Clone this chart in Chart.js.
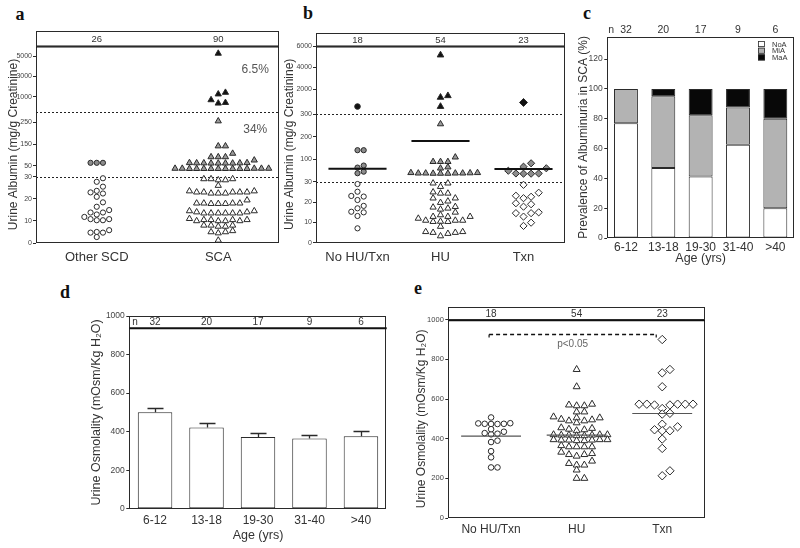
<!DOCTYPE html>
<html><head><meta charset="utf-8">
<script src="https://cdn.jsdelivr.net/npm/chart.js@4.4.1/dist/chart.umd.min.js"></script>
<style>
html,body{margin:0;padding:0;background:#fff;}
body{width:800px;height:548px;overflow:hidden;position:relative;}
canvas{position:absolute;}
.pl{position:absolute;font-family:"Liberation Serif","DejaVu Serif",serif;font-weight:bold;font-size:18px;color:#111;transform:translate(-50%,-50%);line-height:1;}
</style></head><body>
<div class="pl" style="left:20px;top:14px">a</div>
<div class="pl" style="left:308px;top:13px">b</div>
<div class="pl" style="left:587px;top:13px">c</div>
<div class="pl" style="left:65px;top:292px">d</div>
<div class="pl" style="left:418px;top:288px">e</div>
<canvas id="cA"></canvas><canvas id="cB"></canvas><canvas id="cC"></canvas><canvas id="cD"></canvas><canvas id="cE"></canvas>
<script>
// ---------------- DATA ----------------
// Panel a: urine albumin (mg/g creatinine), Other SCD vs SCA
const groupsA = ['Other SCD', 'SCA'];
const nA = [26, 90];
const otherScdNoA = [29.3, 27.7, 25.5, 23.6, 22.9, 22.4, 20.9, 18.4, 16.4, 14.9, 13.8, 13.8, 12.9, 11.8, 10.8, 10.8, 10.3, 10.3, 5.8, 5.0, 4.7, 4.7, 2.7];
const otherScdMiA = [64, 64, 64];
const scaNoA = [29, 29, 28.5, 28.5, 29, 26,
  23.5, 23, 23, 22.5, 23, 22.5, 23, 23.5, 22.5, 23,
  18, 18, 17.8, 17.8, 18, 18, 17.8, 19.4,
  14.5, 14, 13.5, 13.5, 13.5, 13.5, 13.5, 13.5, 14, 14.5,
  11, 10.5, 10.5, 10, 10, 10, 10, 10.5, 10.5,
  8, 8, 7.5, 7.5, 8,
  5.5, 5, 4.5, 5,
  1.2];
const scaMiA = [256, 141, 141, 107, 91, 91, 91, 76,
  64, 63, 62, 62, 62, 63, 62, 63, 64,
  38, 38, 37, 37, 37, 37, 37, 37, 37, 37, 38, 38, 37, 38];
const scaMaA = [5270, 1430, 1270, 700, 430, 370];
const yTicksA = [0, 10, 20, 30, 50, 150, 250, 1000, 3000, 5000];
const cutoffs = [30, 300];
const pctLabelsA = ['6.5%', '34%'];

// Panel b: urine albumin by treatment
const groupsB = ['No HU/Txn', 'HU', 'Txn'];
const nB = [18, 54, 23];
const noTxNoA = [29, 25.2, 23.1, 22.8, 21.1, 18.2, 17, 15.3, 15, 13.2, 7.1];
const noTxMiA = [140, 140, 72, 63, 45, 38];
const noTxMaA = [381];
const huNoA = [29.4, 27.7, 29.4, 25, 24.4, 22, 22, 24.4, 20.5, 19.8, 17.8, 17, 16.5, 17.5, 15,
  12.9, 12, 11, 10.4, 11, 12.9, 10.5, 12.9, 11, 13.7, 10.4, 8, 5.4, 5, 3.3, 4.5, 5, 5.4];
const huMiA = [256, 109, 89, 89, 89, 65, 60, 38, 38, 37, 37, 38, 40, 40, 39, 37, 38];
const huMaA = [5160, 1380, 1230, 380];
const txnNoA = [28.6, 24.7, 22.7, 22, 23.2, 19.5, 17.8, 19, 14.6, 14.6, 12.9, 15, 8.3, 9.9];
const txnMiA = [82, 67, 60, 49, 37, 36, 36, 37];
const txnMaA = [754];
const meanB = [58, 181, 57];
const yTicksB = [0, 10, 20, 30, 100, 200, 300, 2000, 4000, 6000];

// Panel c: prevalence of albuminuria by age (%)
const ageGroups = ['6-12', '13-18', '19-30', '31-40', '>40'];
const nAge = [32, 20, 17, 9, 6];
const prevNoA = [77, 47, 41.2, 62.5, 20];
const prevMiA = [23, 48, 41.2, 25, 60];
const prevMaA = [0, 5, 17.6, 12.5, 20];

// Panel d: urine osmolality by age (mean, SEM)
const osmMean = [500, 422, 372, 364, 376];
const osmSem = [22, 21, 20, 20, 26];

// Panel e: urine osmolality by treatment
const nE = [18, 54, 23];
const osmNoTx = [507, 477, 475, 474, 474, 475, 478, 435, 425, 422, 428, 448, 383, 390, 337, 306, 255, 255];
const osmHU = [749, 662, 574, 566, 566, 570, 535, 535, 498, 490, 495, 505, 505, 510, 480, 490,
  448, 452, 445, 455, 440,
  418, 420, 415, 418, 420, 415, 418, 420,
  393, 395, 390, 393, 395, 390, 393, 395,
  359, 359, 359, 359, 365,
  332, 320, 312, 320, 325,
  287, 267, 275, 267,
  242, 200, 200];
const osmTxn = [900, 749, 732, 662, 574, 574, 574, 574, 574, 570, 570, 552, 524, 528, 473, 440, 440, 460, 445, 398, 351, 213, 238];
const osmMedian = [413, 418, 527];
const pLabel = 'p<0.05';

// ---------------- STYLE / HELPERS ----------------
const SANS = '"Liberation Sans", Arial, Helvetica, "DejaVu Sans", sans-serif';
const NARROW = '"Liberation Sans Narrow", "Arial Narrow", "Liberation Sans", Arial, sans-serif';
const INK = '#2a2a2a';
const TXT = '#333';
Chart.defaults.font.family = SANS;
Chart.defaults.color = TXT;

class BrokenScale extends Chart.LinearScale {
  getPixelForValue(v) {
    const s = this._segs;
    if (!s) return super.getPixelForValue(v);
    let seg = s[s.length - 1];
    for (const g of s) { if (v <= g.v1) { seg = g; break; } }
    const d = seg.f0 + (v - seg.v0) / (seg.v1 - seg.v0) * (seg.f1 - seg.f0);
    return this.getPixelForDecimal(d);
  }
  getValueForPixel(p) {
    const s = this._segs;
    if (!s) return super.getValueForPixel(p);
    const d = this.getDecimalForPixel(p);
    for (const g of s) { if (d <= g.f1) return g.v0 + (d - g.f0) / (g.f1 - g.f0) * (g.v1 - g.v0); }
    return s[s.length - 1].v1;
  }
}
BrokenScale.id = 'broken';
Chart.register(BrokenScale);

function f(size, fam, w) { return (w || '') + ' ' + size + 'px ' + fam; }

function swarm() {
  return { id: 'swarm', afterDatasetsUpdate(chart) {
    const xs = chart.scales.x; const groups = new Map();
    chart.data.datasets.forEach((ds, i) => {
      if (!ds.swarmStep) return;
      const meta = chart.getDatasetMeta(i);
      meta.data.forEach((el, j) => {
        const p = meta._parsed[j];
        if (!groups.has(p.x)) groups.set(p.x, []);
        groups.get(p.x).push({ el, v: p.y, step: ds.swarmStep, rowH: ds.swarmRow || 5 });
      });
    });
    groups.forEach((g, k) => {
      const cx = xs.getPixelForValue(k);
      const step = Math.max(...g.map(p => p.step));
      g.sort((a, b) => a.v - b.v);
      const placed = [];
      g.forEach(p => {
        let x = cx;
        for (let n = 0; n < 80; n++) {
          const s = n === 0 ? 0 : (n % 2 ? (n + 1) / 2 : -n / 2);
          const tx = cx + s * step;
          if (placed.every(q => Math.abs(q.x - tx) >= step * 0.95 || Math.abs(q.y - p.el.y) >= Math.max(q.h, p.rowH))) { x = tx; break; }
        }
        p.el.x = x; placed.push({ x, y: p.el.y, h: p.rowH });
      });
    });
  }};
}

function decor(o) {
  return {
    id: 'decor',
    beforeDatasetsDraw(chart) {
      const { ctx, chartArea: ca } = chart; const y = chart.scales.y;
      if (o.dotted) {
        ctx.save(); ctx.setLineDash([2, 2]); ctx.strokeStyle = '#222'; ctx.lineWidth = 1;
        o.dotted.forEach(v => { const py = Math.round(y.getPixelForValue(v)) + 0.5; ctx.beginPath(); ctx.moveTo(ca.left, py); ctx.lineTo(ca.right, py); ctx.stroke(); });
        ctx.restore();
      }
    },
    afterDatasetsDraw(chart) {
      const { ctx } = chart; const x = chart.scales.x, y = chart.scales.y;
      const step = x.getPixelForValue(1) - x.getPixelForValue(0);
      if (o.lines) {
        ctx.save(); ctx.strokeStyle = o.lines.color; ctx.lineWidth = o.lines.width;
        o.lines.values.forEach((v, i) => {
          const cx = x.getPixelForValue(i), py = y.getPixelForValue(v), h = o.lines.half * step;
          ctx.beginPath(); ctx.moveTo(cx - h, py); ctx.lineTo(cx + h, py); ctx.stroke();
        });
        ctx.restore();
      }
      if (o.err) {
        ctx.save(); ctx.strokeStyle = INK; ctx.lineWidth = 1.3;
        o.err.mean.forEach((m, i) => {
          const cx = Math.round(x.getPixelForValue(i)) + 0.5, pb = y.getPixelForValue(m), pt = Math.round(y.getPixelForValue(m + o.err.sem[i])) + 0.5;
          ctx.beginPath(); ctx.moveTo(cx, pb); ctx.lineTo(cx, pt); ctx.moveTo(cx - o.err.cap / 2, pt); ctx.lineTo(cx + o.err.cap / 2, pt); ctx.stroke();
        });
        ctx.restore();
      }
    },
    afterDraw(chart) {
      const { ctx, chartArea: ca } = chart; const x = chart.scales.x, y = chart.scales.y;
      ctx.save();
      ctx.strokeStyle = INK; ctx.lineWidth = 1;
      if (o.frame) ctx.strokeRect(Math.round(ca.left) + 0.5, Math.round(ca.top) + 0.5, Math.round(ca.right - ca.left) - 1, Math.round(ca.bottom - ca.top) - 1);
      if (o.thickTop) { ctx.lineWidth = 2.2; ctx.strokeStyle = '#111'; ctx.beginPath(); ctx.moveTo(ca.left, ca.top + 0.5); ctx.lineTo(ca.right, ca.top + 0.5); ctx.stroke(); }
      ctx.fillStyle = TXT; ctx.textAlign = 'center'; ctx.textBaseline = 'middle';
      if (o.nBox) {
        ctx.lineWidth = 1; ctx.strokeStyle = INK;
        ctx.strokeRect(Math.round(ca.left) + 0.5, Math.round(ca.top - o.nBox.h) + 0.5, Math.round(ca.right - ca.left) - 1, Math.round(o.nBox.h));
        ctx.font = o.nBox.font;
        o.nBox.labels.forEach((t, i) => ctx.fillText(String(t), x.getPixelForValue(i), ca.top - o.nBox.h / 2 + 0.5));
      }
      if (o.nInside) {
        ctx.lineWidth = 2; ctx.strokeStyle = '#111';
        ctx.beginPath(); ctx.moveTo(ca.left, ca.top + o.nInside.h); ctx.lineTo(ca.right, ca.top + o.nInside.h); ctx.stroke();
        ctx.font = o.nInside.font;
        ctx.textAlign = 'left'; ctx.fillText('n', ca.left + 3, ca.top + o.nInside.h / 2 + 0.5); ctx.textAlign = 'center';
        o.nInside.labels.forEach((t, i) => ctx.fillText(String(t), x.getPixelForValue(i), ca.top + o.nInside.h / 2 + 0.5));
      }
      if (o.nAbove) {
        ctx.font = o.nAbove.font;
        ctx.textAlign = 'left'; ctx.fillText('n', ca.left + 1, ca.top - o.nAbove.dy); ctx.textAlign = 'center';
        o.nAbove.labels.forEach((t, i) => ctx.fillText(String(t), x.getPixelForValue(i), ca.top - o.nAbove.dy));
      }
      if (o.texts) {
        o.texts.forEach(tx => { ctx.font = tx.font; ctx.fillStyle = tx.color; ctx.fillText(tx.t, x.getPixelForValue(tx.cat) + tx.dx, y.getPixelForValue(tx.v)); });
      }
      if (o.legend) {
        const L = o.legend; ctx.font = L.font; ctx.textAlign = 'left';
        chart.data.datasets.forEach((ds, i) => {
          const cy = ca.top + L.dy + i * L.row; const bx = ca.right - L.dx;
          ctx.fillStyle = ds.backgroundColor; ctx.fillRect(bx, cy - 3, 7, 6);
          ctx.strokeStyle = INK; ctx.lineWidth = 0.8; ctx.strokeRect(bx + 0.4, cy - 3 + 0.4, 6.2, 5.2);
          ctx.fillStyle = TXT; ctx.fillText(ds.label, bx + 14, cy + 0.5);
        });
      }
      if (o.bracket) {
        const B = o.bracket;
        const x0 = x.getPixelForValue(B.from) + B.dx0, x1 = x.getPixelForValue(B.to) + B.dx1, py = y.getPixelForValue(B.v);
        ctx.setLineDash([4, 3]); ctx.lineWidth = 1.6; ctx.strokeStyle = '#111';
        ctx.beginPath(); ctx.moveTo(x0, py); ctx.lineTo(x1, py); ctx.stroke();
        ctx.setLineDash([]); ctx.lineWidth = 1.2;
        ctx.beginPath(); ctx.moveTo(x0, py); ctx.lineTo(x0, py + 3); ctx.moveTo(x1, py); ctx.lineTo(x1, py + 3); ctx.stroke();
        ctx.fillStyle = '#666'; ctx.font = B.font; ctx.textAlign = 'center';
        ctx.fillText(B.text, (x0 + x1) / 2 + B.tdx, py + B.tdy);
      }
      ctx.restore();
    }
  };
}

function setup(id, box, area) {
  const c = document.getElementById(id);
  c.width = box.w; c.height = box.h;
  c.style.left = box.x + 'px'; c.style.top = box.y + 'px';
  c.style.width = box.w + 'px'; c.style.height = box.h + 'px';
  return {
    canvas: c,
    padding: { left: 0, bottom: 0, top: area.T - box.y, right: box.x + box.w - area.R },
    yW: area.L - box.x,
    xH: box.y + box.h - area.B
  };
}

function yAxis(g, extra) {
  return Object.assign({
    position: 'left',
    afterFit: s => { s.width = g.yW; },
    border: { display: false },
    grid: { display: true, drawOnChartArea: false, drawTicks: true, tickLength: 3, color: INK, lineWidth: 1 },
  }, extra);
}
function xAxis(g, extra) {
  return Object.assign({
    position: 'bottom',
    afterFit: s => { s.height = g.xH; },
    border: { display: false },
    grid: { display: false, drawTicks: false },
  }, extra);
}
function pts(cat, arr) { return arr.map(v => ({ x: cat, y: v })); }
function mark(style, r, fill, step, row) {
  return { pointStyle: style, pointRadius: r, pointBackgroundColor: fill, pointBorderColor: INK, pointBorderWidth: 1, swarmStep: step, swarmRow: row, showLine: false };
}
const baseOpts = g => ({
  responsive: false, animation: false, events: [],
  layout: { padding: g.padding },
  plugins: { legend: { display: false }, tooltip: { enabled: false } },
});

// ---------------- PANEL A ----------------
(() => {
  const g = setup('cA', { x: 0, y: 16, w: 292, h: 264 }, { L: 36, T: 46, R: 279, B: 243 });
  const segs = [{ v0: 0, v1: 30, f0: 0, f1: 0.3365 }, { v0: 30, v1: 300, f0: 0.3695, f1: 0.6675 }, { v0: 300, v1: 6000, f0: 0.7056, f1: 1 }];
  new Chart(g.canvas, {
    type: 'scatter',
    data: { datasets: [
      Object.assign({ data: pts(groupsA[0], otherScdNoA) }, mark('circle', 2.6, '#fff', 6.2, 5)),
      Object.assign({ data: pts(groupsA[0], otherScdMiA) }, mark('circle', 2.6, '#8c8c8c', 6.2, 5)),
      Object.assign({ data: pts(groupsA[1], scaNoA) }, mark('triangle', 3.6, '#fff', 7.2, 5)),
      Object.assign({ data: pts(groupsA[1], scaMiA) }, mark('triangle', 3.6, '#9a9a9a', 7.2, 5)),
      Object.assign({ data: pts(groupsA[1], scaMaA) }, mark('triangle', 3.6, '#111', 7.2, 5)),
    ]},
    options: Object.assign(baseOpts(g), {
      scales: {
        x: xAxis(g, { type: 'category', labels: groupsA, offset: true, ticks: { font: { size: 13, family: NARROW }, padding: 7, color: TXT } }),
        y: yAxis(g, { type: 'broken', min: 0, max: 6000,
          beforeUpdate: s => { s._segs = segs; },
          afterBuildTicks: s => { s.ticks = yTicksA.map(v => ({ value: v })); },
          ticks: { callback: v => String(v), font: { size: 7, family: NARROW }, padding: 1, color: '#444' },
          title: { display: true, text: 'Urine Albumin (mg/g Creatinine)', font: { size: 12, family: SANS }, padding: { top: 6, bottom: 0 }, color: TXT } }),
      },
    }),
    plugins: [swarm(), decor({
      frame: true, thickTop: true, dotted: cutoffs,
      nBox: { labels: nA, h: 15, font: f(9.5, NARROW) },
      texts: [
        { t: pctLabelsA[0], cat: 1, dx: 37, v: 3640, font: f(12, SANS), color: '#555' },
        { t: pctLabelsA[1], cat: 1, dx: 37, v: 215, font: f(12, SANS), color: '#555' },
      ],
    })],
  });
})();

// ---------------- PANEL B ----------------
(() => {
  const g = setup('cB', { x: 272, y: 16, w: 298, h: 264 }, { L: 316, T: 46, R: 566, B: 242.7 });
  const segs = [{ v0: 0, v1: 30, f0: 0, f1: 0.3086 }, { v0: 30, v1: 300, f0: 0.344, f1: 0.654 }, { v0: 300, v1: 6000, f0: 0.688, f1: 1 }];
  new Chart(g.canvas, {
    type: 'scatter',
    data: { datasets: [
      Object.assign({ data: pts(groupsB[0], noTxNoA) }, mark('circle', 2.6, '#fff', 6.2, 5)),
      Object.assign({ data: pts(groupsB[0], noTxMiA) }, mark('circle', 2.6, '#8c8c8c', 6.2, 5)),
      Object.assign({ data: pts(groupsB[0], noTxMaA) }, mark('circle', 2.8, '#111', 6.2, 5)),
      Object.assign({ data: pts(groupsB[1], huNoA) }, mark('triangle', 3.6, '#fff', 7.4, 5)),
      Object.assign({ data: pts(groupsB[1], huMiA) }, mark('triangle', 3.6, '#9a9a9a', 7.4, 5)),
      Object.assign({ data: pts(groupsB[1], huMaA) }, mark('triangle', 3.8, '#111', 7.4, 5)),
      Object.assign({ data: pts(groupsB[2], txnNoA) }, mark('rectRot', 3.6, '#fff', 7.6, 5.5)),
      Object.assign({ data: pts(groupsB[2], txnMiA) }, mark('rectRot', 3.6, '#8c8c8c', 7.6, 5.5)),
      Object.assign({ data: pts(groupsB[2], txnMaA) }, mark('rectRot', 4, '#111', 7.6, 5.5)),
    ]},
    options: Object.assign(baseOpts(g), {
      scales: {
        x: xAxis(g, { type: 'category', labels: groupsB, offset: true, ticks: { font: { size: 13, family: NARROW }, padding: 7, color: TXT } }),
        y: yAxis(g, { type: 'broken', min: 0, max: 6000,
          beforeUpdate: s => { s._segs = segs; },
          afterBuildTicks: s => { s.ticks = yTicksB.map(v => ({ value: v })); },
          ticks: { callback: v => String(v), font: { size: 7, family: NARROW }, padding: 1, color: '#444' },
          title: { display: true, text: 'Urine Albumin (mg/g Creatinine)', font: { size: 12, family: SANS }, padding: { top: 10.8, bottom: 0 }, color: TXT } }),
      },
    }),
    plugins: [swarm(), decor({
      frame: true, thickTop: true, dotted: cutoffs,
      nBox: { labels: nB, h: 13, font: f(9.5, NARROW) },
      lines: { values: meanB, half: 0.35, width: 2, color: '#111' },
    })],
  });
})();

// ---------------- PANEL C ----------------
(() => {
  const g = setup('cC', { x: 562, y: 0, w: 238, h: 268 }, { L: 607.3, T: 36.7, R: 794, B: 238 });
  new Chart(g.canvas, {
    type: 'bar',
    data: { labels: ageGroups, datasets: [
      { label: 'NoA', data: prevNoA, backgroundColor: '#ffffff', borderColor: INK, borderWidth: 1, borderSkipped: false },
      { label: 'MiA', data: prevMiA, backgroundColor: '#b3b3b3', borderColor: INK, borderWidth: 1, borderSkipped: false },
      { label: 'MaA', data: prevMaA, backgroundColor: '#080808', borderColor: INK, borderWidth: 1, borderSkipped: false },
    ]},
    options: Object.assign(baseOpts(g), {
      datasets: { bar: { barPercentage: 0.64, categoryPercentage: 1 } },
      scales: {
        x: xAxis(g, { stacked: true, ticks: { font: { size: 12 }, padding: 2.5, color: TXT },
          title: { display: true, text: 'Age (yrs)', font: { size: 12.5 }, padding: { top: 0, bottom: 2 }, color: TXT } }),
        y: yAxis(g, { stacked: true, min: 0, max: 135,
          ticks: { stepSize: 20, includeBounds: false, font: { size: 8.5 }, padding: 1.5, color: '#444' },
          title: { display: true, text: 'Prevalence of Albuminuria in SCA (%)', font: { size: 12 }, padding: { top: 14, bottom: 0 }, color: TXT } }),
      },
    }),
    plugins: [decor({
      frame: true,
      nAbove: { labels: nAge, dy: 7, font: f(10.5, SANS) },
      legend: { font: f(7.5, SANS), dx: 36, dy: 7.3, row: 6.7 },
    })],
  });
})();

// ---------------- PANEL D ----------------
(() => {
  const g = setup('cD', { x: 60, y: 290, w: 335, h: 258 }, { L: 129.3, T: 316, R: 386.7, B: 508.7 });
  new Chart(g.canvas, {
    type: 'bar',
    data: { labels: ageGroups, datasets: [
      { label: 'Osmolality', data: osmMean, backgroundColor: '#ffffff', borderColor: INK, borderWidth: 1, borderSkipped: false },
    ]},
    options: Object.assign(baseOpts(g), {
      datasets: { bar: { barPercentage: 0.67, categoryPercentage: 1 } },
      scales: {
        x: xAxis(g, { ticks: { font: { size: 12 }, padding: 4.5, color: TXT },
          title: { display: true, text: 'Age (yrs)', font: { size: 12.5 }, padding: { top: 0, bottom: 4.5 }, color: TXT } }),
        y: yAxis(g, { min: 0, max: 1000,
          ticks: { stepSize: 200, callback: v => String(v), font: { size: 8.5 }, padding: 1.5, color: '#444' },
          title: { display: true, text: 'Urine Osmolality (mOsm/Kg H\u2082O)', font: { size: 12.5 }, padding: { top: 29, bottom: 0 }, color: TXT } }),
      },
    }),
    plugins: [decor({
      frame: true,
      nInside: { labels: nAge, h: 12.3, font: f(10, SANS) },
      err: { mean: osmMean, sem: osmSem, cap: 16 },
    })],
  });
})();

// ---------------- PANEL E ----------------
(() => {
  const g = setup('cE', { x: 400, y: 290, w: 312, h: 258 }, { L: 448.3, T: 319.7, R: 705, B: 518 });
  new Chart(g.canvas, {
    type: 'scatter',
    data: { datasets: [
      Object.assign({ data: pts(groupsB[0], osmNoTx) }, mark('circle', 2.8, '#fff', 6.4, 5)),
      Object.assign({ data: pts(groupsB[1], osmHU) }, mark('triangle', 4, '#fff', 7.7, 4.5)),
      Object.assign({ data: pts(groupsB[2], osmTxn) }, mark('rectRot', 4.2, '#fff', 7.7, 5)),
    ]},
    options: Object.assign(baseOpts(g), {
      scales: {
        x: xAxis(g, { type: 'category', labels: groupsB, offset: true, ticks: { font: { size: 12 }, padding: 4.5, color: TXT } }),
        y: yAxis(g, { min: 0, max: 1000,
          ticks: { stepSize: 200, callback: v => String(v), font: { size: 7.5 }, padding: 1.5, color: '#444' },
          title: { display: true, text: 'Urine Osmolality (mOsm/Kg H\u2082O)', font: { size: 12 }, padding: { top: 14.5, bottom: 0 }, color: TXT } }),
      },
    }),
    plugins: [swarm(), decor({
      frame: true, thickTop: true,
      nBox: { labels: nE, h: 12.4, font: f(10, SANS) },
      lines: { values: osmMedian, half: 0.35, width: 1.2, color: '#555' },
      bracket: { from: 0, to: 2, dx0: -2, dx1: -6, v: 925, text: pLabel, font: f(10, SANS), tdx: 0, tdy: 9.5 },
    })],
  });
})();
</script>
</body></html>
